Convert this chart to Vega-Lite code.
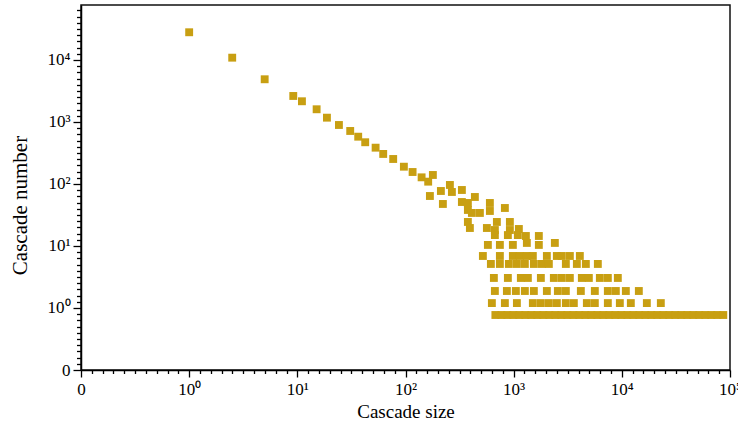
{
  "$schema": "https://vega.github.io/schema/vega-lite/v6.json",
  "autosize": "none",
  "padding": {"left": 81, "top": 5, "right": 8, "bottom": 57},
  "width": 649,
  "height": 365,
  "background": "white",
  "config": {"view": {"stroke": "#111", "strokeWidth": 1.5}},
  "data": {
    "values": [
      {"size": 1, "number": 27980}, {"size": 2.5, "number": 10890}, {"size": 4.99, "number": 4883}, {"size": 9.17, "number": 2627}, {"size": 11.03, "number": 2157}, {"size": 15.08, "number": 1603}, {"size": 18.78, "number": 1173}, {"size": 24.24, "number": 894}, {"size": 30.82, "number": 716}, {"size": 36.54, "number": 579}, {"size": 42.41, "number": 471}, {"size": 52.92, "number": 385}, {"size": 62.22, "number": 305}, {"size": 76.95, "number": 253}, {"size": 96.6, "number": 190}, {"size": 116.3, "number": 156}, {"size": 140.9, "number": 128}, {"size": 162.1, "number": 109}, {"size": 168.1, "number": 64},
      {"size": 179.1, "number": 139.7}, {"size": 212.4, "number": 77.1}, {"size": 221.6, "number": 47.6}, {"size": 257.3, "number": 96.4}, {"size": 268.5, "number": 74.3}, {"size": 332.1, "number": 80.0}, {"size": 332.1, "number": 51.2}, {"size": 377.3, "number": 49.4}, {"size": 437.9, "number": 61.7}, {"size": 377.3, "number": 38.1}, {"size": 410.9, "number": 34.1}, {"size": 487.2, "number": 34.1}, {"size": 602.6, "number": 49.4}, {"size": 602.6, "number": 36.7}, {"size": 829.3, "number": 41.0}, {"size": 377.3, "number": 24.4}, {"size": 393.8, "number": 19.5}, {"size": 565.4, "number": 19.5}, {"size": 699.5, "number": 24.4}, {"size": 922.5, "number": 24.4}, {"size": 670.3, "number": 18.1}, {"size": 922.5, "number": 18.1}, {"size": 1117, "number": 18.8},
      {"size": 577.6, "number": 10.4}, {"size": 745.6, "number": 10.4}, {"size": 983, "number": 10.4}, {"size": 1324, "number": 11.2}, {"size": 1709, "number": 10.4}, {"size": 2403, "number": 11.2},
      {"size": 670.3, "number": 15.0}, {"size": 884, "number": 15.0}, {"size": 1093, "number": 15.0}, {"size": 1297, "number": 14.5}, {"size": 1709, "number": 14.5},
      {"size": 519.2, "number": 6.9}, {"size": 745.6, "number": 6.9}, {"size": 983, "number": 6.9}, {"size": 1141, "number": 6.9}, {"size": 1324, "number": 6.9}, {"size": 1504, "number": 6.9}, {"size": 2027, "number": 6.9}, {"size": 2507, "number": 6.9}, {"size": 2789, "number": 6.9}, {"size": 3307, "number": 6.9}, {"size": 4090, "number": 6.9},
      {"size": 615.6, "number": 5.13}, {"size": 745.6, "number": 5.13}, {"size": 902.8, "number": 5.13}, {"size": 1071, "number": 5.13}, {"size": 1269, "number": 5.13}, {"size": 1537, "number": 5.13}, {"size": 1822, "number": 5.13}, {"size": 2115, "number": 5.13}, {"size": 3037, "number": 5.13}, {"size": 3838, "number": 5.13}, {"size": 4649, "number": 5.13}, {"size": 6000, "number": 5.13},
      {"size": 656.2, "number": 3.05}, {"size": 884, "number": 3.05}, {"size": 1165, "number": 3.05}, {"size": 1353, "number": 3.05}, {"size": 1784, "number": 3.05}, {"size": 2352, "number": 3.05}, {"size": 2789, "number": 3.05}, {"size": 3307, "number": 3.05}, {"size": 4268, "number": 3.05}, {"size": 4955, "number": 3.05}, {"size": 6262, "number": 3.05}, {"size": 7424, "number": 3.05}, {"size": 9183, "number": 3.05},
      {"size": 670.3, "number": 1.88}, {"size": 865.4, "number": 1.88}, {"size": 1048, "number": 1.88}, {"size": 1269, "number": 1.88}, {"size": 1537, "number": 1.88}, {"size": 2027, "number": 1.88}, {"size": 2562, "number": 1.88}, {"size": 3037, "number": 1.88}, {"size": 4179, "number": 1.88}, {"size": 5628, "number": 1.88}, {"size": 7424, "number": 1.88}, {"size": 8801, "number": 1.88}, {"size": 10890, "number": 1.88}, {"size": 14360, "number": 1.88},
      {"size": 628.8, "number": 1.2}, {"size": 829.3, "number": 1.2}, {"size": 1071, "number": 1.2}, {"size": 1504, "number": 1.2}, {"size": 1784, "number": 1.2}, {"size": 2115, "number": 1.2}, {"size": 2507, "number": 1.2}, {"size": 3037, "number": 1.2}, {"size": 3600, "number": 1.2}, {"size": 4748, "number": 1.2}, {"size": 5628, "number": 1.2}, {"size": 7424, "number": 1.2}, {"size": 9583, "number": 1.2}, {"size": 12110, "number": 1.2}, {"size": 17030, "number": 1.2}, {"size": 22930, "number": 1.2},
      {"size": 677.5, "number": 0.771}, {"size": 769.7, "number": 0.771}, {"size": 874.6, "number": 0.771}, {"size": 993.6, "number": 0.771}, {"size": 1129, "number": 0.771}, {"size": 1283, "number": 0.771}, {"size": 1457, "number": 0.771}, {"size": 1656, "number": 0.771}, {"size": 1882, "number": 0.771}, {"size": 2138, "number": 0.771}, {"size": 2429, "number": 0.771}, {"size": 2760, "number": 0.771}, {"size": 3136, "number": 0.771}, {"size": 3563, "number": 0.771}, {"size": 4048, "number": 0.771}, {"size": 4599, "number": 0.771}, {"size": 5226, "number": 0.771}, {"size": 5937, "number": 0.771}, {"size": 6745, "number": 0.771}, {"size": 7664, "number": 0.771}, {"size": 8708, "number": 0.771}, {"size": 9892, "number": 0.771}, {"size": 11240, "number": 0.771}, {"size": 12770, "number": 0.771}, {"size": 14510, "number": 0.771}, {"size": 16490, "number": 0.771}, {"size": 18730, "number": 0.771}, {"size": 21280, "number": 0.771}, {"size": 24180, "number": 0.771}, {"size": 27470, "number": 0.771}, {"size": 31220, "number": 0.771}, {"size": 35470, "number": 0.771}, {"size": 40300, "number": 0.771}, {"size": 45790, "number": 0.771}, {"size": 52030, "number": 0.771}, {"size": 59110, "number": 0.771}, {"size": 67160, "number": 0.771}, {"size": 76300, "number": 0.771}, {"size": 86700, "number": 0.771}
    ]
  },
  "mark": {"type": "square", "size": 62, "color": "#C89F12", "opacity": 1},
  "encoding": {
    "x": {
      "field": "size",
      "type": "quantitative",
      "scale": {"type": "log", "domain": [0.1, 100000], "nice": false},
      "axis": {
        "title": "Cascade size",
        "grid": false,
        "values": [0.1, 0.12589, 0.15849, 0.19953, 0.25119, 0.31623, 0.39811, 0.50119, 0.63096, 0.79433, 1, 1.2589, 1.5849, 1.9953, 2.5119, 3.1623, 3.9811, 5.0119, 6.3096, 7.9433, 10, 12.589, 15.849, 19.953, 25.119, 31.623, 39.811, 50.119, 63.096, 79.433, 100, 125.89, 158.49, 199.53, 251.19, 316.23, 398.11, 501.19, 630.96, 794.33, 1000, 1258.9, 1584.9, 1995.3, 2511.9, 3162.3, 3981.1, 5011.9, 6309.6, 7943.3, 10000, 12589, 15849, 19953, 25119, 31623, 39811, 50119, 63096, 79433, 100000],
        "labelExpr": "datum.value < 0.11 ? '0' : (abs(log(datum.value)/LN10 - round(log(datum.value)/LN10)) < 0.01 ? '10' + ['⁰','¹','²','³','⁴','⁵'][round(log(datum.value)/LN10)] : '')",
        "labelOverlap": false,
        "labelFlush": false,
        "tickSize": {"condition": {"test": "abs(log(datum.value)/LN10 - round(log(datum.value)/LN10)) < 0.01", "value": 7}, "value": 3.5},
        "tickColor": "#000",
        "tickWidth": 1.3,
        "domainColor": "#000",
        "domainWidth": 1.5,
        "labelFont": "Liberation Serif",
        "labelFontSize": 17,
        "labelColor": "#000",
        "labelPadding": 4,
        "titleFont": "Liberation Serif",
        "titleFontSize": 19,
        "titleFontWeight": "normal",
        "titleColor": "#000",
        "titleBaseline": "middle",
        "titleY": 41
      }
    },
    "y": {
      "field": "number",
      "type": "quantitative",
      "scale": {"type": "log", "domain": [0.1, 77000], "nice": false},
      "axis": {
        "title": "Cascade number",
        "grid": false,
        "values": [0.1, 0.12589, 0.15849, 0.19953, 0.25119, 0.31623, 0.39811, 0.50119, 0.63096, 0.79433, 1, 1.2589, 1.5849, 1.9953, 2.5119, 3.1623, 3.9811, 5.0119, 6.3096, 7.9433, 10, 12.589, 15.849, 19.953, 25.119, 31.623, 39.811, 50.119, 63.096, 79.433, 100, 125.89, 158.49, 199.53, 251.19, 316.23, 398.11, 501.19, 630.96, 794.33, 1000, 1258.9, 1584.9, 1995.3, 2511.9, 3162.3, 3981.1, 5011.9, 6309.6, 7943.3, 10000, 12589, 15849, 19953, 25119, 31623, 39811, 50119, 63096],
        "labelExpr": "datum.value < 0.11 ? '0' : (abs(log(datum.value)/LN10 - round(log(datum.value)/LN10)) < 0.01 ? '10' + ['⁰','¹','²','³','⁴','⁵'][round(log(datum.value)/LN10)] : '')",
        "labelOverlap": false,
        "labelFlush": false,
        "tickSize": {"condition": {"test": "abs(log(datum.value)/LN10 - round(log(datum.value)/LN10)) < 0.01", "value": 8}, "value": 4.5},
        "tickColor": "#000",
        "tickWidth": 1.3,
        "domainColor": "#000",
        "domainWidth": 1.5,
        "labelFont": "Liberation Serif",
        "labelFontSize": 17,
        "labelColor": "#000",
        "labelPadding": 3,
        "labelBaseline": "middle",
        "titleFont": "Liberation Serif",
        "titleFontSize": 21,
        "titleFontWeight": "normal",
        "titleColor": "#000",
        "titleAngle": -90,
        "titleBaseline": "middle",
        "titleAlign": "center",
        "titleX": -61,
        "titleY": 200
      }
    }
  }
}
